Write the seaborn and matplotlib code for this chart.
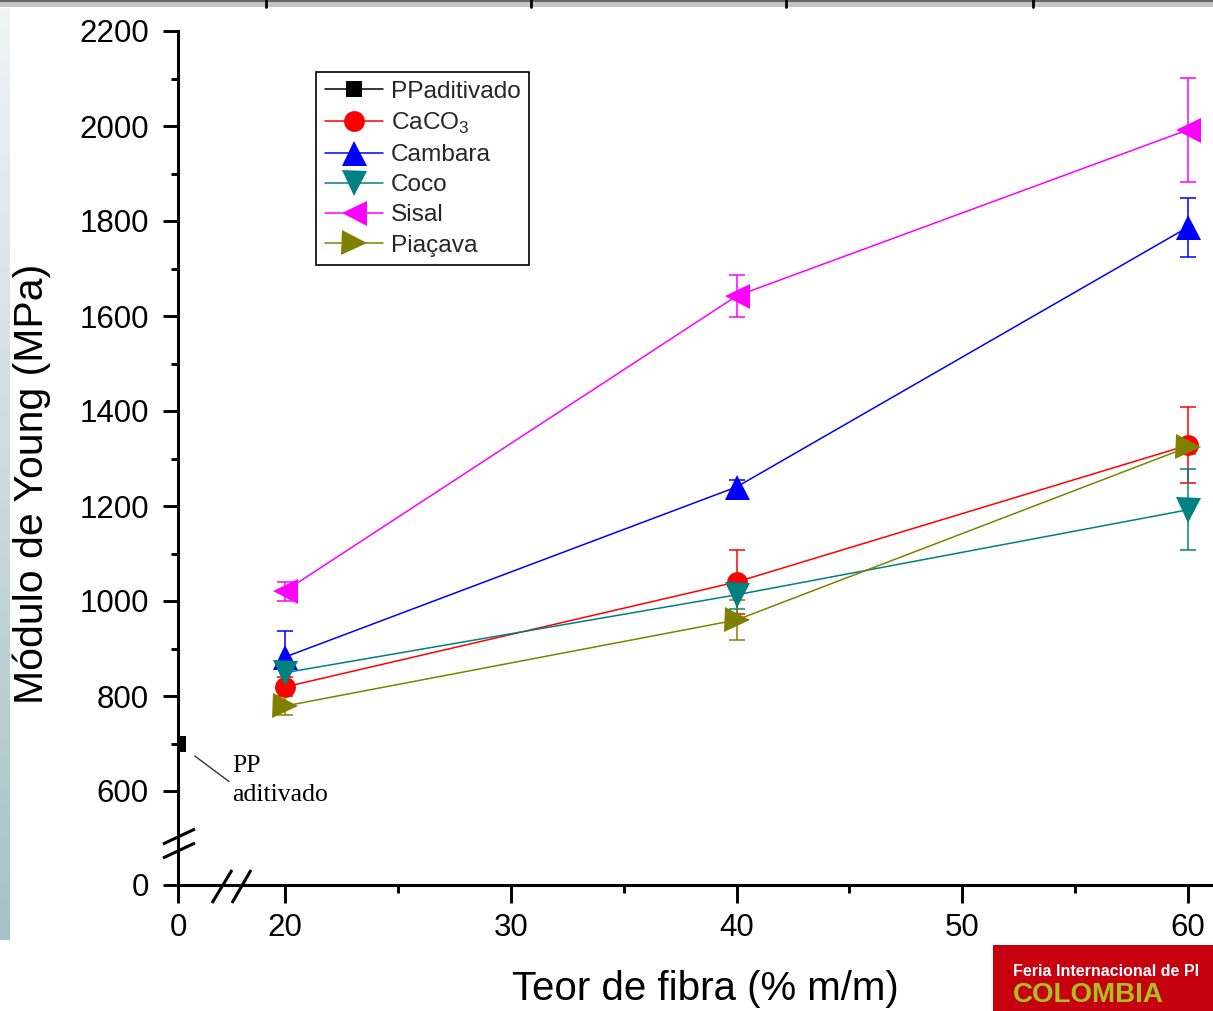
import numpy as np
import pandas as pd
import matplotlib
matplotlib.use("Agg")
import matplotlib.pyplot as plt
import seaborn as sns
from matplotlib.lines import Line2D
from matplotlib.patches import Rectangle
from matplotlib.ticker import FixedLocator
from matplotlib.colors import LinearSegmentedColormap

# ---------------- data ----------------
teor = [20, 40, 60]
pp_teor = [0]
pp_modulo = [700]
caco3 = [819, 1040, 1328]
caco3_err = [20, 67, 80]
cambara = [882, 1240, 1787]
cambara_err = [55, 15, 62]
coco = [849, 1013, 1192]
coco_err = [25, 30, 85]
sisal = [1021, 1642, 1992]
sisal_err = [20, 45, 110]
piacava = [779, 960, 1324]
piacava_err = [20, 42, 15]

series_names = ["CaCO$_\\mathregular{3}$", "Cambara", "Coco", "Sisal", "Piaçava"]
series_vals = [caco3, cambara, coco, sisal, piacava]
series_errs = [caco3_err, cambara_err, coco_err, sisal_err, piacava_err]
series_colors = ["#ff0000", "#0000ff", "#008080", "#ff00ff", "#808000"]
series_markers = ["o", "^", "v", "<", ">"]
series_msize = [15, 18, 18, 18, 18]

x_major = [0, 20, 30, 40, 50, 60]
x_minor = [25, 35, 45, 55]
y_major = [0, 600, 800, 1000, 1200, 1400, 1600, 1800, 2000, 2200]
y_minor = [700, 900, 1100, 1300, 1500, 1700, 1900, 2100]

# ---------------- style ----------------
sns.set_theme(style="white")
plt.rcParams["font.family"] = ["Liberation Sans", "DejaVu Sans"]
plt.rcParams["mathtext.fontset"] = "custom"
plt.rcParams["mathtext.rm"] = "Liberation Sans"

W, H = 1213, 1011
fig = plt.figure(figsize=(W / 100, H / 100), dpi=100)
fig.patch.set_facecolor("white")

def fx(px, py):
    return px / W, 1 - py / H

ax = fig.add_axes([178 / W, 1 - 885 / H, (W - 178) / W, (885 - 31) / H])
ax.set_facecolor("white")

# broken-axis scales (piecewise linear)
def xf(v):
    v = np.asarray(v, dtype=float)
    return np.where(v < 20, v * 107 / 20, 107 + (v - 20) * 22.575)

def xi(u):
    u = np.asarray(u, dtype=float)
    return np.where(u < 107, u * 20 / 107, 20 + (u - 107) / 22.575)

def yf(v):
    v = np.asarray(v, dtype=float)
    return np.where(v < 600, v * 94 / 600, 94 + (v - 600) * 0.475)

def yi(u):
    u = np.asarray(u, dtype=float)
    return np.where(u < 94, u * 600 / 94, 600 + (u - 94) / 0.475)

ax.set_xscale("function", functions=(xf, xi))
ax.set_yscale("function", functions=(yf, yi))

# ---------------- plot ----------------
pp_df = pd.DataFrame({"teor": pp_teor, "modulo": pp_modulo})
sns.lineplot(data=pp_df, x="teor", y="modulo", ax=ax, color="black", marker="s",
             markersize=12, markeredgewidth=0, linewidth=1.1, errorbar=None)

for name, vals, errs, col, mk, ms in zip(series_names, series_vals, series_errs,
                                         series_colors, series_markers, series_msize):
    df = pd.DataFrame({"teor": teor, "modulo": vals})
    ax.errorbar(teor, vals, yerr=errs, fmt="none", ecolor=col, elinewidth=1.1,
                capsize=5.5, capthick=1.1, zorder=2)
    sns.lineplot(data=df, x="teor", y="modulo", ax=ax, color=col, marker=mk,
                 markersize=ms, markeredgewidth=0, linewidth=1.1, errorbar=None,
                 zorder=3)

ax.set_xlim(0, 20 + (W - 178 - 107) / 22.575)
ax.set_ylim(0, 2200)

ax.xaxis.set_major_locator(FixedLocator(x_major))
ax.xaxis.set_minor_locator(FixedLocator(x_minor))
ax.yaxis.set_major_locator(FixedLocator(y_major))
ax.yaxis.set_minor_locator(FixedLocator(y_minor))
ax.set_xticklabels([str(v) for v in x_major])
ax.set_yticklabels([str(v) for v in y_major])

for s in ["top", "right"]:
    ax.spines[s].set_visible(False)
for s in ["left", "bottom"]:
    ax.spines[s].set_color("black")
    ax.spines[s].set_linewidth(2.2)
    ax.spines[s].set_zorder(5)

ax.tick_params(bottom=True, left=True, top=False, right=False, which="both")
ax.tick_params(axis="x", which="major", direction="out", length=13, width=2.1,
               color="black", labelsize=22.5, labelcolor="black", pad=7)
ax.tick_params(axis="y", which="major", direction="out", length=11, width=2.1,
               color="black", labelsize=22.5, labelcolor="black", pad=10)
ax.tick_params(axis="x", which="minor", direction="out", length=6, width=2.1, color="black")
ax.tick_params(axis="y", which="minor", direction="out", length=5, width=2.1, color="black")

ax.set_xlabel("Teor de fibra (% m/m)", fontsize=29, color="black")
ax.set_ylabel("Módulo de Young (MPa)", fontsize=29.5, color="black")
ax.xaxis.set_label_coords(0.510, -0.100)
ax.yaxis.set_label_coords(-0.123, 0.47)

ax.grid(False)

# PP annotation
ax.annotate("", xy=(0, 700), xytext=(51, -38), textcoords="offset pixels",
            arrowprops=dict(arrowstyle="-", shrinkA=0, shrinkB=15, lw=1.0, color="#333333"))
ax.annotate("PP\naditivado", xy=(0, 700), xytext=(54, -12), textcoords="offset pixels",
            ha="left", va="top", fontsize=18.5, linespacing=1.4,
            fontfamily=["Liberation Serif", "DejaVu Serif"], color="black")

# legend
handles = [Line2D([], [], color="black", marker="s", markersize=11, markeredgewidth=0, lw=1.1)]
labels = ["PPaditivado"]
for name, col, mk, ms in zip(series_names, series_colors, series_markers, series_msize):
    handles.append(Line2D([], [], color=col, marker=mk, markersize=ms, markeredgewidth=0, lw=1.1))
    labels.append(name)
leg = ax.legend(handles, labels, loc="upper left",
                bbox_to_anchor=((316 - 178) / (W - 178), 1 - (72 - 31) / (885 - 31)),
                fontsize=17.6, frameon=True, fancybox=False, framealpha=1,
                edgecolor="black", borderaxespad=0, borderpad=0.35,
                labelspacing=0.33, handlelength=2.4, handletextpad=0.3, numpoints=1)
leg.get_frame().set_linewidth(1.2)

# break marks
brk = dict(color="black", lw=2.2, transform=fig.transFigure, zorder=10, solid_capstyle="butt")
for (x0, y0, x1, y1) in [(163, 844, 195, 829), (163, 858, 195, 843),
                         (212, 903, 232, 870), (232, 903, 251, 870)]:
    a, b = fx(x0, y0)
    c, d = fx(x1, y1)
    fig.add_artist(Line2D([a, c], [b, d], **brk))

# left gradient strip
gax = fig.add_axes([0, 1 - 940 / H, 10 / W, (940 - 8) / H])
grad = np.linspace(0, 1, 256).reshape(-1, 1)
cm = LinearSegmentedColormap.from_list("g", ["#f0f4f5", "#a6c1c7"])
gax.imshow(grad, aspect="auto", cmap=cm)
gax.axis("off")

# top band
fig.add_artist(Rectangle(fx(0, 7), 1, 7 / H, transform=fig.transFigure,
                         facecolor="#c4c4c4", edgecolor="none"))
fig.add_artist(Line2D([0, 1], [1 - 1 / H, 1 - 1 / H], color="#555555", lw=1.2,
                      transform=fig.transFigure))
for tx in [266, 531, 786, 1033]:
    a, b = fx(tx, 7)
    fig.add_artist(Line2D([a, a], [b, 1], color="black", lw=2, transform=fig.transFigure))

# logo corner
fig.add_artist(Rectangle(fx(993, 1011), (W - 993) / W, (1011 - 945) / H,
                         transform=fig.transFigure, facecolor="#c6000f", edgecolor="none"))
fig.text(*fx(1013, 971), "Feria Internacional de Pl", color="white",
         fontsize=11.5, fontweight="bold", ha="left", va="center",
         fontfamily=["Liberation Sans"])
fig.text(*fx(1013, 1008), "COLOMBIA", color="#a9c21d", fontsize=20,
         fontweight="bold", ha="left", va="bottom", fontfamily=["Liberation Sans"])

fig.savefig("out.png", dpi=100, facecolor="white")
